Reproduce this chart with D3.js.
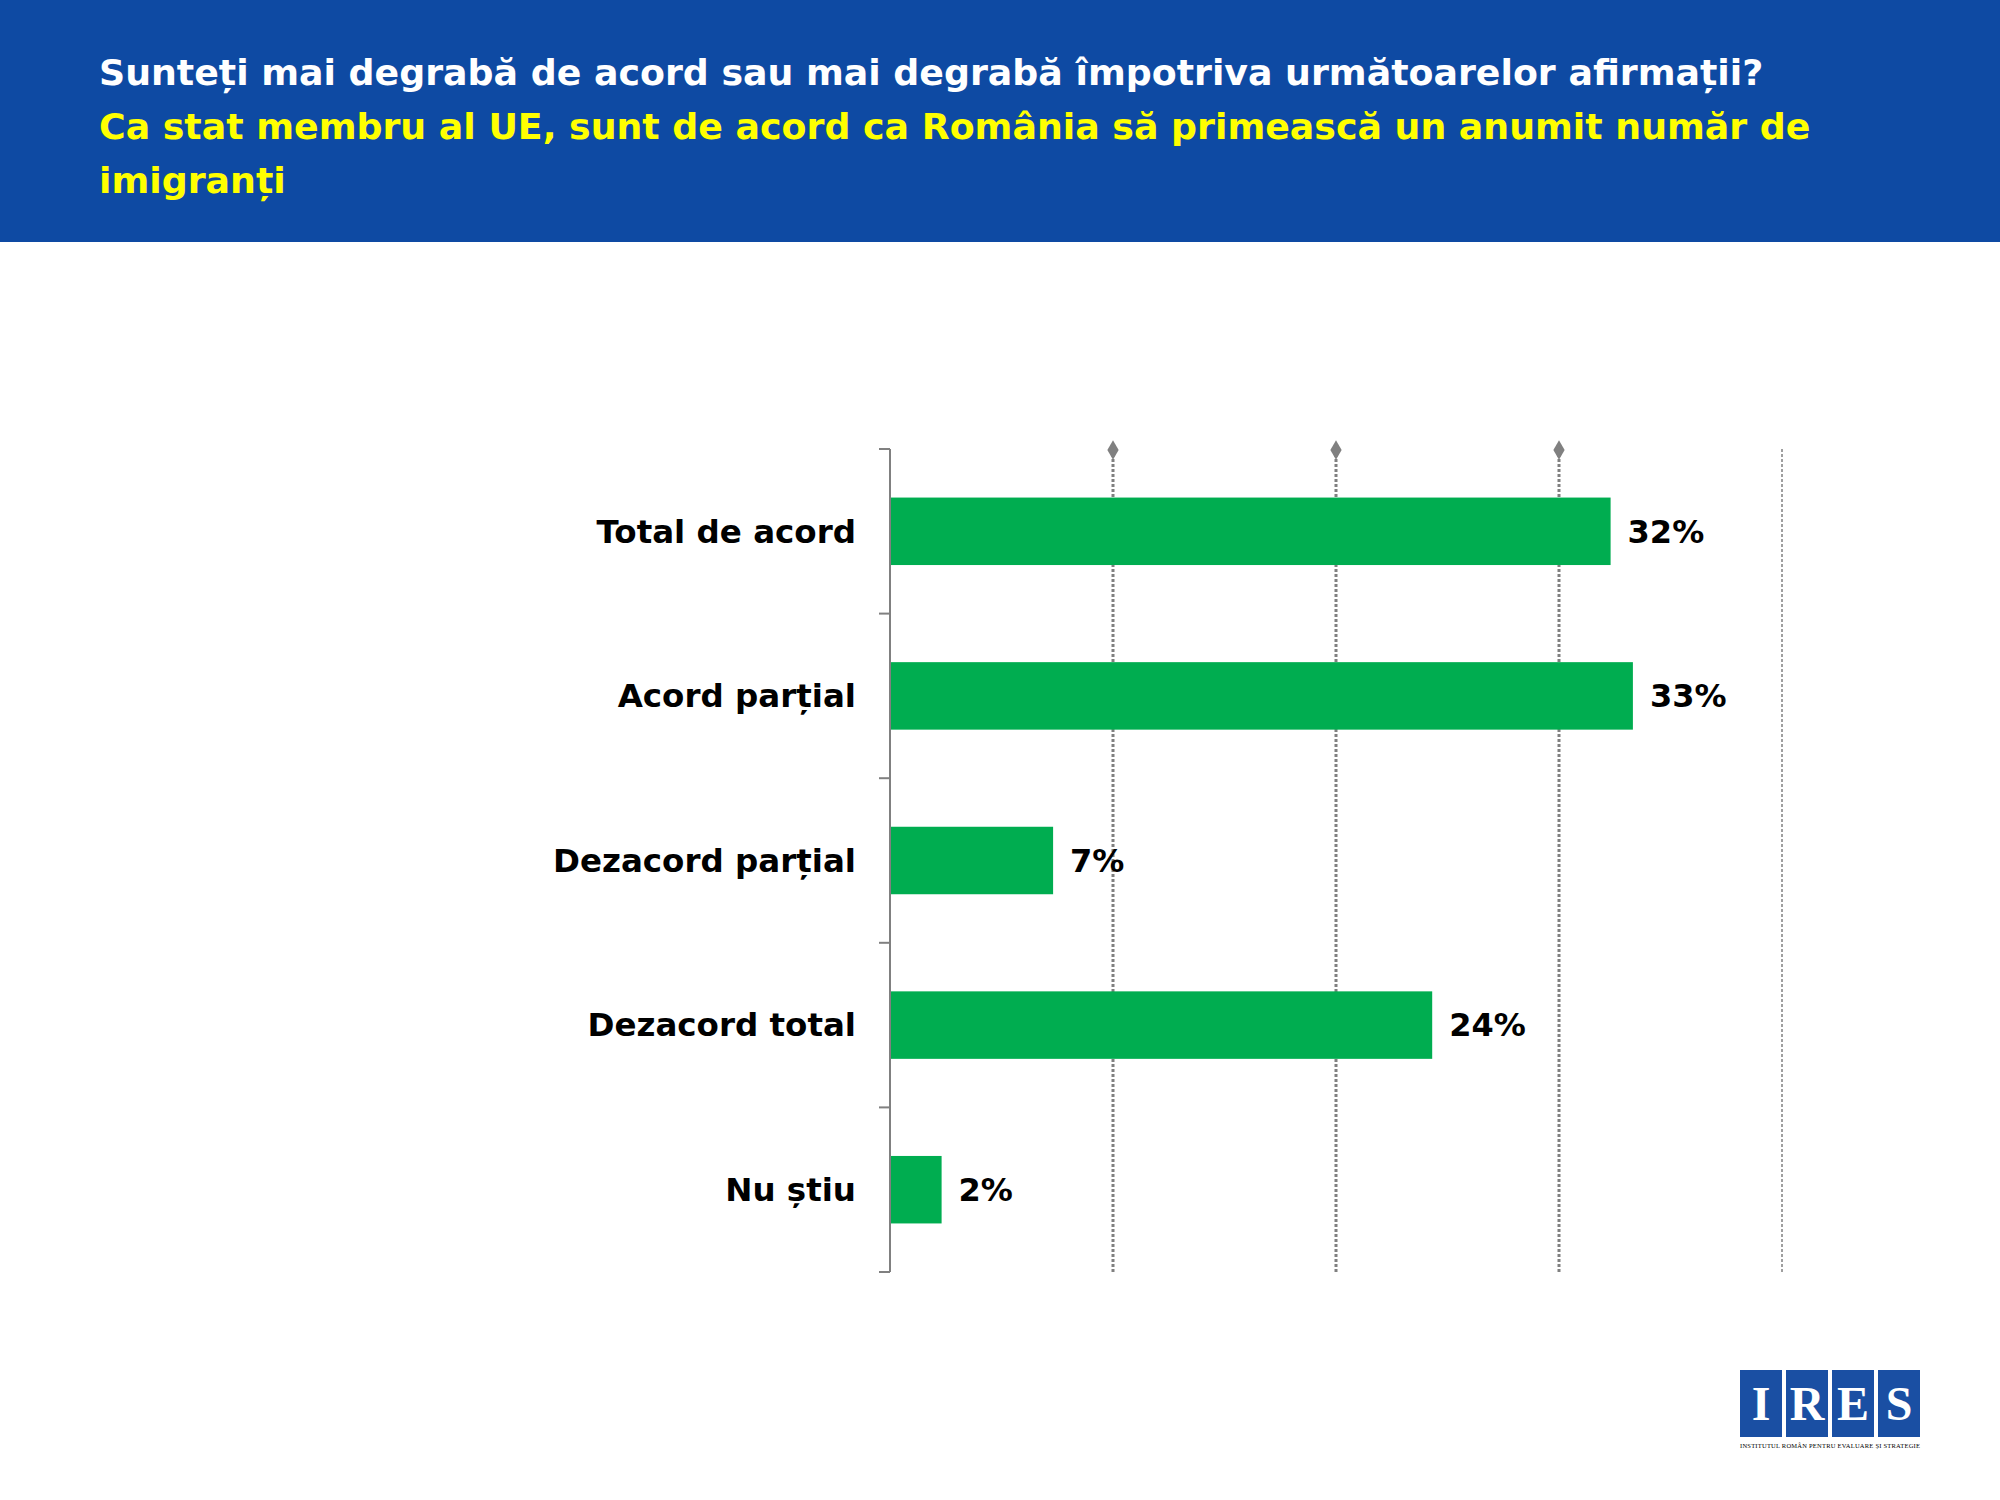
<!DOCTYPE html>
<html>
<head>
<meta charset="utf-8">
<script src="https://cdn.jsdelivr.net/npm/d3@7"></script>
<style>
  body { margin: 0; background: #fff; }
  text { font-family: "DejaVu Sans", Verdana, sans-serif; }
</style>
</head>
<body>
<svg id="chart" width="2000" height="1500"></svg>
<script>
'use strict';

var titleLines = ['Sunteți mai degrabă de acord sau mai degrabă împotriva următoarelor afirmații?'];
var subtitleLines = ['Ca stat membru al UE, sunt de acord ca România să primească un anumit număr de', 'imigranți'];
var categories = ['Total de acord', 'Acord parțial', 'Dezacord parțial', 'Dezacord total', 'Nu știu'];
var values = [32, 33, 7, 24, 2];
var gridTicks = [10, 20, 30, 40];
var logoLetters = ['I', 'R', 'E', 'S'];

var svg = d3.select('#chart');

// header band
svg.append('rect').attr('x', 0).attr('y', 0).attr('width', 2000).attr('height', 242).attr('fill', '#0E4AA3');

var heads = titleLines.map(function (t) { return {t: t, c: '#ffffff'}; })
  .concat(subtitleLines.map(function (t) { return {t: t, c: '#FFFF00'}; }));
svg.selectAll('text.head').data(heads).enter().append('text')
  .attr('class', 'head')
  .attr('x', 99)
  .attr('y', function (d, i) { return 85 + i * 54; })
  .attr('fill', function (d) { return d.c; })
  .attr('font-size', 36.3)
  .attr('font-weight', 'bold')
  .text(function (d) { return d.t; });

var x = d3.scaleLinear().domain([0, 40]).range([890, 1782]);
var y = d3.scaleBand().domain(categories).range([449, 1272]).paddingInner(0.59).paddingOuter(0.295);

// dotted gridlines
var g = svg.append('g');
g.selectAll('line.grid').data(gridTicks).enter().append('line')
  .attr('x1', function (d) { return x(d); }).attr('x2', function (d) { return x(d); })
  .attr('y1', 449).attr('y2', 1272)
  .attr('stroke', '#808080').attr('stroke-width', function (d, i) { return i === 3 ? 1.5 : 3; })
  .attr('stroke-dasharray', '3,2');
g.selectAll('path.marker').data(gridTicks.slice(0, 3)).enter().append('path')
  .attr('d', d3.symbol(d3.symbolDiamond, 110))
  .attr('transform', function (d) { return 'translate(' + x(d) + ',450)'; })
  .attr('fill', '#808080');

// left axis with category separators
var sep = d3.range(categories.length + 1).map(function (i) { return 449 + i * (823 / categories.length); });
g.append('line').attr('x1', 890).attr('x2', 890).attr('y1', 449).attr('y2', 1272)
  .attr('stroke', '#808080').attr('stroke-width', 2);
g.selectAll('line.tick').data(sep).enter().append('line')
  .attr('x1', 879).attr('x2', 890).attr('y1', function (d) { return d; }).attr('y2', function (d) { return d; })
  .attr('stroke', '#808080').attr('stroke-width', 2);

// bars
g.selectAll('rect.bar').data(values).enter().append('rect')
  .attr('x', x(0) + 1)
  .attr('y', function (d, i) { return y(categories[i]); })
  .attr('width', function (d) { return x(d) - x(0) + 6; })
  .attr('height', y.bandwidth())
  .attr('fill', '#00AD50');

// category labels
g.selectAll('text.cat').data(categories).enter().append('text')
  .attr('x', 856)
  .attr('y', function (d) { return y(d) + y.bandwidth() / 2; })
  .attr('dy', '0.35em')
  .attr('text-anchor', 'end')
  .attr('font-size', 32.5)
  .attr('font-weight', 'bold')
  .attr('fill', '#000')
  .text(function (d) { return d; });

// value labels
g.selectAll('text.val').data(values).enter().append('text')
  .attr('x', function (d) { return x(d) + 24; })
  .attr('y', function (d, i) { return y(categories[i]) + y.bandwidth() / 2; })
  .attr('dy', '0.35em')
  .attr('font-size', 32)
  .attr('font-weight', 'bold')
  .attr('fill', '#000')
  .text(function (d) { return d + '%'; });

// logo
var logo = svg.append('g');
logo.selectAll('rect').data(logoLetters).enter().append('rect')
  .attr('x', function (d, i) { return 1740 + i * 46; }).attr('y', 1370)
  .attr('width', 42).attr('height', 67).attr('fill', '#1A4FA3');
logo.selectAll('text.l').data(logoLetters).enter().append('text')
  .attr('x', function (d, i) { return 1761 + i * 46; }).attr('y', 1420)
  .attr('text-anchor', 'middle').attr('fill', '#fff')
  .style('font-family', '"Liberation Serif", serif').attr('font-size', 48).attr('font-weight', 'bold')
  .text(function (d) { return d; });
logo.append('text').attr('x', 1740).attr('y', 1448)
  .style('font-family', '"Liberation Serif", serif').attr('font-size', 6.5).attr('textLength', 180)
  .attr('fill', '#000')
  .text('INSTITUTUL ROMÂN PENTRU EVALUARE ȘI STRATEGIE');
</script>
</body>
</html>
